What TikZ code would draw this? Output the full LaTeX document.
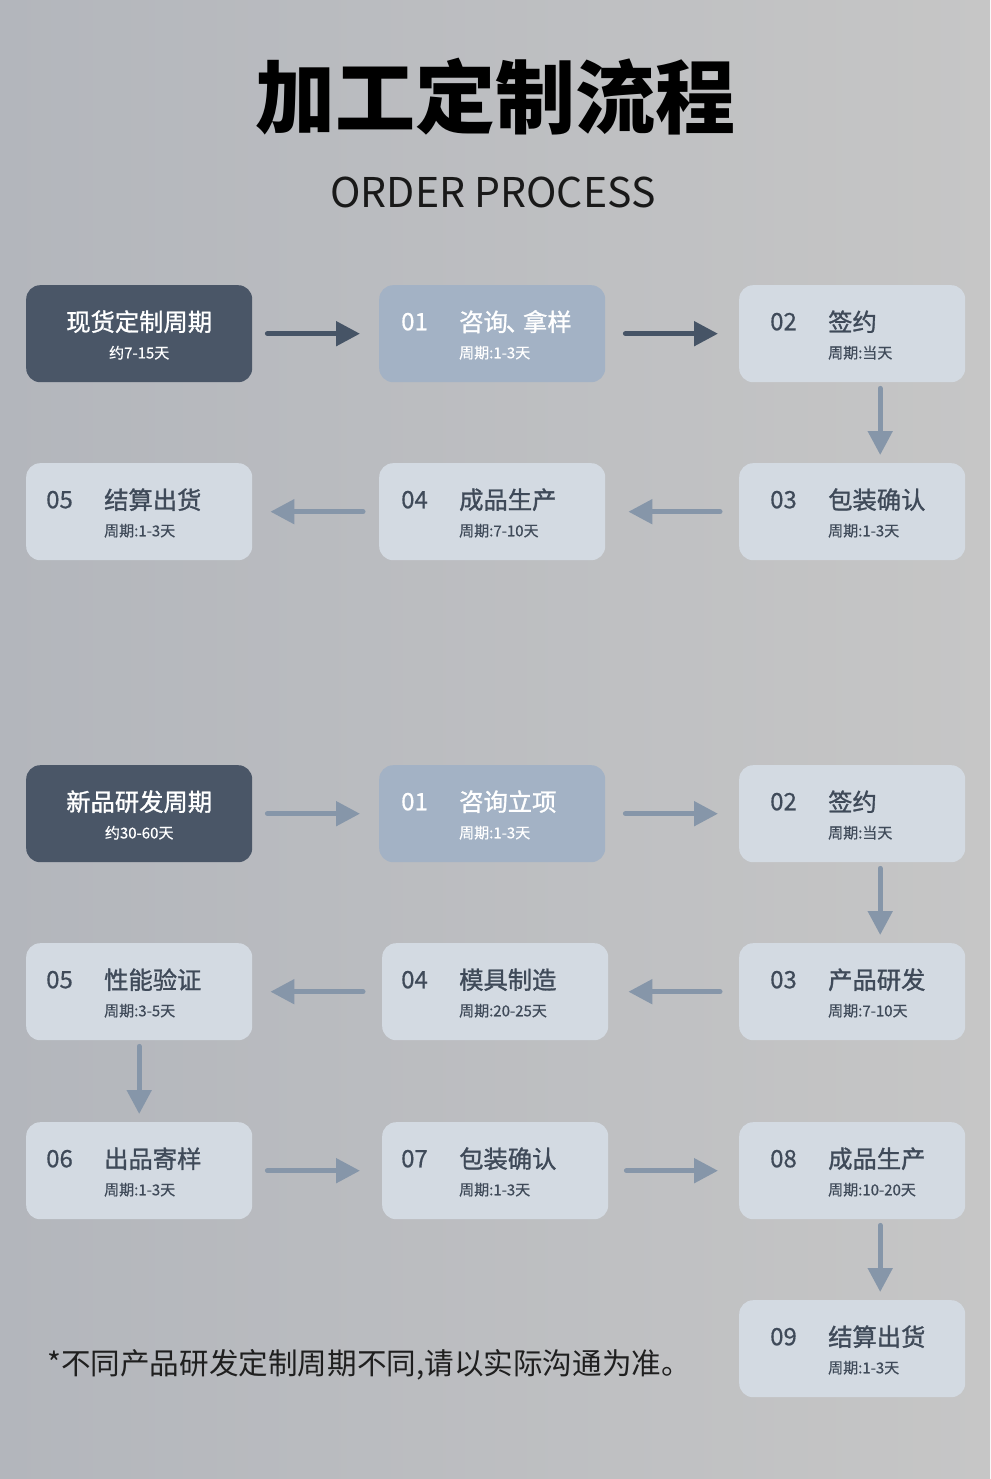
\documentclass[tikz,border=0pt]{standalone}
\usepackage{fontspec}
\setmainfont{Noto Sans CJK SC}
\newfontfamily\medf{Noto Sans CJK SC}[FakeBold=1.2]
\newfontfamily\semif{Noto Sans CJK SC}[FakeBold=0.5]
\usetikzlibrary{arrows.meta,calc}
\definecolor{bgL}{HTML}{B3B6BC}
\definecolor{bgR}{HTML}{C6C6C6}
\definecolor{darkbox}{HTML}{4A5667}
\definecolor{bluebox}{HTML}{A3B2C5}
\definecolor{lightbox}{HTML}{D3DAE2}
\definecolor{darktxt}{HTML}{3F4A59}
\definecolor{arrdark}{HTML}{465466}
\definecolor{arrlight}{HTML}{8696A9}
\tikzset{
  boxbase/.style={rounded corners=14pt, minimum width=226pt, minimum height=97pt, inner sep=0pt, draw=none, anchor=north west},
  boxD/.style={boxbase, fill=darkbox},
  boxB/.style={boxbase, fill=bluebox},
  boxL/.style={boxbase, fill=lightbox},
  txtB/.style={text=white, inner sep=0pt},
  txtL/.style={text=darktxt, inner sep=0pt},
  txtD/.style={text=white, inner sep=0pt},
  numsz/.style={font=\semif\fontsize{24}{24}\selectfont},
  titsz/.style={font=\medf\fontsize{24.3}{25}\selectfont},
  subsz/.style={font=\semif\fontsize{15}{16}\selectfont},
  arrD/.style={draw=arrdark, line width=5pt, line cap=round, -{Triangle[length=24pt,width=24pt]}},
  arrL/.style={draw=arrlight, line width=5pt, line cap=round, -{Triangle[length=24pt,width=24pt]}},
}
% #1 kind (B/L), #2 name, #3 left x, #4 top y, #5 number, #6 title, #7 subtitle, #8 number offset
\newcommand\procbox[8]{%
  \node[box#1] (#2) at (#3,#4) {};
  \node[txt#1, numsz, anchor=west] (#2n) at ($(#2.west)+(#8,-12)$) {#5};
  \node[txt#1, titsz, anchor=west] (#2t) at ($(#2.west)+(#8+58,-12)$) {#6};
  \node[txt#1, subsz, anchor=west] (#2s) at ($(#2.west)+(#8+58,19)$) {#7};
}
\newcommand\headbox[5]{%
  \node[boxD] (#1) at (#2,#3) {};
  \node[txtD, titsz] (#1t) at ($(#1.center)+(0,-12)$) {#4};
  \node[txtD, subsz] (#1s) at ($(#1.center)+(0,19)$) {#5};
}
\begin{document}
\begin{tikzpicture}[x=1pt,y=-1pt]
\useasboundingbox (0,0) rectangle (990,1479);
\shade[left color=bgL, right color=bgR] (0,0) rectangle (990,1479);

\node[inner sep=0pt, font=\fontsize{80}{80}\selectfont\bfseries, text=black] (title) at (495,97) {加工定制流程};
\node[inner sep=0pt, font=\fontsize{41}{41}\selectfont, text=black!90] (sub) at (493,192) {ORDER PROCESS};

% Section 1
\headbox{h1}{26}{285}{现货定制周期}{约7-15天}
\procbox{B}{a1}{379}{285}{01}{咨询\kern-2pt、\kern-7pt拿样}{周期:1-3天}{22}
\procbox{L}{a2}{739}{285}{02}{签约}{周期:当天}{31}
\procbox{L}{a3}{739}{463}{03}{包装确认}{周期:1-3天}{31}
\procbox{L}{a4}{379}{463}{04}{成品生产}{周期:7-10天}{22}
\procbox{L}{a5}{26}{463}{05}{结算出货}{周期:1-3天}{20}

\draw[arrD, shorten <=15pt, shorten >=19pt] (h1.east) -- (a1.west);
\draw[arrD, shorten <=20pt, shorten >=21pt] (a1.east) -- (a2.west);
\draw[arrL, shorten <=6pt, shorten >=8pt] ($(a2.south)+(28,0)$) coordinate (d1s) -- ($(a3.north)+(28,0)$) coordinate (d1e);
\draw[arrL, shorten <=19pt, shorten >=23pt] (a3.west) -- (a4.east);
\draw[arrL, shorten <=16pt, shorten >=18pt] (a4.west) -- (a5.east);

% Section 2
\headbox{h2}{26}{765}{新品研发周期}{约30-60天}
\procbox{B}{b1}{379}{765}{01}{咨询立项}{周期:1-3天}{22}
\procbox{L}{b2}{739}{765}{02}{签约}{周期:当天}{31}
\procbox{L}{b3}{739}{943}{03}{产品研发}{周期:7-10天}{31}
\procbox{L}{b4}{382}{943}{04}{模具制造}{周期:20-25天}{19}
\procbox{L}{b5}{26}{943}{05}{性能验证}{周期:3-5天}{20}
\procbox{L}{b6}{26}{1122}{06}{出品寄样}{周期:1-3天}{20}
\procbox{L}{b7}{382}{1122}{07}{包装确认}{周期:1-3天}{19}
\procbox{L}{b8}{739}{1122}{08}{成品生产}{周期:10-20天}{31}
\procbox{L}{b9}{739}{1300}{09}{结算出货}{周期:1-3天}{31}

\draw[arrL, shorten <=15pt, shorten >=19pt] (h2.east) -- (b1.west);
\draw[arrL, shorten <=20pt, shorten >=21pt] (b1.east) -- (b2.west);
\draw[arrL, shorten <=6pt, shorten >=8pt] ($(b2.south)+(28,0)$) coordinate (d2s) -- ($(b3.north)+(28,0)$) coordinate (d2e);
\draw[arrL, shorten <=19pt, shorten >=20pt] (b3.west) -- (b4.east);
\draw[arrL, shorten <=19pt, shorten >=18pt] (b4.west) -- (b5.east);
\draw[arrL, shorten <=6pt, shorten >=8pt] (b5.south) -- (b6.north);
\draw[arrL, shorten <=15pt, shorten >=22pt] (b6.east) -- (b7.west);
\draw[arrL, shorten <=18pt, shorten >=21pt] (b7.east) -- (b8.west);
\draw[arrL, shorten <=6pt, shorten >=8pt] ($(b8.south)+(28,0)$) coordinate (d3s) -- ($(b9.north)+(28,0)$) coordinate (d3e);

\node[inner sep=0pt, anchor=west, font=\fontsize{29.6}{30}\selectfont, text=black!88] (note) at (47,1365) {*不同产品研发定制周期不同,请以实际沟通为准。};
\end{tikzpicture}
\end{document}
